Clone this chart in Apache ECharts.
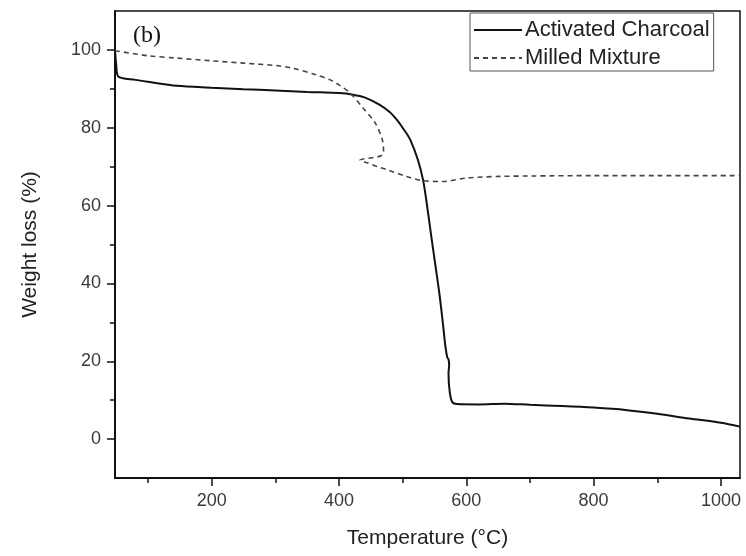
<!DOCTYPE html>
<html>
<head>
<meta charset="utf-8">
<script src="https://cdn.jsdelivr.net/npm/echarts@6/dist/echarts.min.js"></script>
<style>html,body{margin:0;padding:0;background:#fff;}#c{width:746px;height:556px;}</style>
</head>
<body>
<div id="c"></div>
<script>
// Data
const seriesNames = ['Activated Charcoal', 'Milled Mixture'];
const charcoalT = [48, 50, 53, 80, 100, 145, 200, 250, 300, 350, 400, 422, 440, 464, 480, 491, 502, 512, 524, 532, 537, 545, 552, 558, 563, 567, 570, 572, 573, 572, 574, 578, 585, 620, 660, 700, 750, 800, 850, 900, 950, 1000, 1030];
const charcoalW = [100, 96, 93.2, 92.3, 91.8, 90.8, 90.3, 89.9, 89.6, 89.2, 88.9, 88.5, 87.8, 85.9, 84, 82, 79.5, 76.9, 71.7, 66.6, 61.5, 52, 44, 37, 30, 24, 21, 20.5, 19, 17, 12, 9.5, 9, 8.9, 9.1, 8.8, 8.5, 8.1, 7.5, 6.5, 5.3, 4.2, 3.2];
const mixtureT = [48, 100, 145, 200, 250, 300, 327, 364, 386, 400, 417, 438, 457, 468, 470, 466, 452, 433, 444, 460, 476, 507, 532, 564, 601, 653, 700, 800, 900, 1030];
const mixtureW = [99.8, 98.5, 97.9, 97.2, 96.6, 96, 95.3, 93.6, 92.3, 91, 89, 85, 81.2, 76.9, 73.8, 72.8, 72.3, 71.7, 71, 70, 69.2, 67.4, 66.4, 66.2, 67.1, 67.5, 67.6, 67.7, 67.7, 67.7];
const xMajorTicks = [200, 400, 600, 800, 1000];
const xMinorTicks = [100, 300, 500, 700, 900];
const yMajorTicks = [0, 20, 40, 60, 80, 100];
const yMinorTicks = [10, 30, 50, 70, 90];
const xRange = [48, 1030];
const yRange = [-10, 110];

const zip = (a, b) => a.map((v, i) => [v, b[i]]);
const lblColor = '#3a3a3a';
const chart = echarts.init(document.getElementById('c'), null, {renderer: 'canvas'});
const grid = {left: 115, right: 6, top: 11, bottom: 78, show: true, borderColor: '#111', borderWidth: 1.5, containLabel: false};

const baseX = {
  type: 'value', min: xRange[0], max: xRange[1], position: 'bottom',
  splitLine: {show: false},
  axisLine: {show: true, onZero: false, lineStyle: {color: '#111', width: 2}}
};
const baseY = {
  type: 'value', min: yRange[0], max: yRange[1], position: 'left',
  splitLine: {show: false},
  axisLine: {show: true, onZero: false, lineStyle: {color: '#111', width: 2}}
};

chart.setOption({
  animation: false,
  backgroundColor: '#fff',
  grid: grid,
  legend: {
    data: seriesNames,
    orient: 'vertical', left: 470, top: 13,
    itemWidth: 48, itemHeight: 14, itemGap: 6,
    padding: [6, 4, 2, 3],
    borderColor: '#555', borderWidth: 1,
    itemStyle: {color: 'rgba(0,0,0,0)', borderColor: 'rgba(0,0,0,0)', borderWidth: 0, opacity: 0},
    textStyle: {fontFamily: 'Liberation Sans, Arial', fontSize: 22, color: '#222', padding: [0, 0, 0, -2]}
  },
  graphic: [{
    type: 'text', left: 133, top: 24,
    style: {text: '(b)', font: '24px "Liberation Serif", "Times New Roman", serif', fill: '#111'}
  }],
  xAxis: [
    Object.assign({}, baseX, {
      name: 'Temperature (°C)', nameLocation: 'middle', nameGap: 50,
      nameTextStyle: {fontFamily: 'Liberation Sans, Arial', fontSize: 21, color: '#222'},
      axisTick: {show: true, inside: false, length: 8, customValues: xMajorTicks, lineStyle: {color: '#111', width: 1.5}},
      axisLabel: {show: true, customValues: xMajorTicks, margin: 14, formatter: v => String(v), fontFamily: 'Liberation Sans, Arial', fontSize: 18, color: lblColor}
    }),
    Object.assign({}, baseX, {
      axisLine: {show: false, onZero: false},
      axisTick: {show: true, inside: false, length: 5, customValues: xMinorTicks, lineStyle: {color: '#111', width: 1.5}},
      axisLabel: {show: false}
    })
  ],
  yAxis: [
    Object.assign({}, baseY, {
      name: 'Weight loss (%)', nameLocation: 'middle', nameGap: 74, nameRotate: 90,
      nameTextStyle: {fontFamily: 'Liberation Sans, Arial', fontSize: 21, color: '#222'},
      axisTick: {show: true, inside: false, length: 8, customValues: yMajorTicks, lineStyle: {color: '#111', width: 1.5}},
      axisLabel: {show: true, customValues: yMajorTicks, margin: 14, formatter: v => String(v), fontFamily: 'Liberation Sans, Arial', fontSize: 18, color: lblColor}
    }),
    Object.assign({}, baseY, {
      axisLine: {show: false, onZero: false},
      axisTick: {show: true, inside: false, length: 5, customValues: yMinorTicks, lineStyle: {color: '#111', width: 1.5}},
      axisLabel: {show: false}
    })
  ],
  series: [
    {
      name: seriesNames[0], type: 'line', xAxisIndex: 0, yAxisIndex: 0,
      data: zip(charcoalT, charcoalW), showSymbol: false, symbol: 'none', smooth: 0.3,
      lineStyle: {color: '#111', width: 2}, itemStyle: {color: '#111'}
    },
    {
      name: seriesNames[1], type: 'line', xAxisIndex: 0, yAxisIndex: 0,
      data: zip(mixtureT, mixtureW), showSymbol: false, symbol: 'none', smooth: 0.3,
      lineStyle: {color: '#444', width: 1.6, type: [5, 4]}, itemStyle: {color: '#444'}
    }
  ]
});
</script>
</body>
</html>
